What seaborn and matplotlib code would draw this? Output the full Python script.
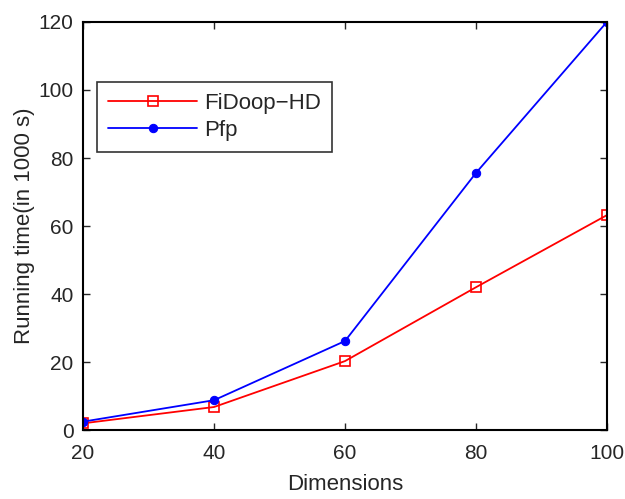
import matplotlib
matplotlib.use("Agg")
import matplotlib.pyplot as plt
import seaborn as sns
import pandas as pd

dimensions = [20, 40, 60, 80, 100]
fidoop_hd = [2.0, 6.8, 20.3, 42.0, 63.2]
pfp = [2.5, 8.8, 26.2, 75.6, 120.0]

sns.set_style("white")
plt.rcParams['font.family'] = ['Liberation Sans', 'DejaVu Sans']

df = pd.DataFrame({
    'Dimensions': dimensions * 2,
    'time': fidoop_hd + pfp,
    'series': ['FiDoop\u2212HD'] * 5 + ['Pfp'] * 5,
})

fig, ax = plt.subplots(figsize=(6.25, 4.99), dpi=100)
fig.subplots_adjust(left=0.133, right=0.971, top=0.956, bottom=0.138)

sns.lineplot(data=df[df.series == 'FiDoop\u2212HD'], x='Dimensions', y='time',
             color='#ff0000', marker='s', markersize=7, markerfacecolor='none',
             markeredgecolor='#ff0000', markeredgewidth=1.2, linewidth=1.3,
             label='FiDoop\u2212HD', ax=ax)
sns.lineplot(data=df[df.series == 'Pfp'], x='Dimensions', y='time',
             color='#0000ff', marker='o', markersize=6, markerfacecolor='#0000ff',
             markeredgecolor='#0000ff', linewidth=1.3, label='Pfp', ax=ax)

ax.set_xlim(20, 100)
ax.set_ylim(0, 120)
ax.set_xticks([20, 40, 60, 80, 100])
ax.set_yticks([0, 20, 40, 60, 80, 100, 120])
ax.set_xlabel('Dimensions', fontsize=16, labelpad=8)
ax.set_ylabel('Running time(in 1000 s)', fontsize=16, labelpad=2)
ax.tick_params(direction='in', length=5, width=1, labelsize=15,
               top=True, right=True, bottom=True, left=True)
ax.tick_params(axis='x', pad=10)
ax.tick_params(axis='y', pad=7)
for s in ax.spines.values():
    s.set_visible(True)
    s.set_color('black')
    s.set_linewidth(1.5)

leg = ax.legend(loc='upper left', bbox_to_anchor=(0.027, 0.853), fontsize=16,
                frameon=True, fancybox=False, edgecolor='black',
                borderaxespad=0, handlelength=4.0, handletextpad=0.3,
                borderpad=0.5, labelspacing=0.25)
leg.get_frame().set_linewidth(1.2)

fig.savefig('out.png', dpi=100)
